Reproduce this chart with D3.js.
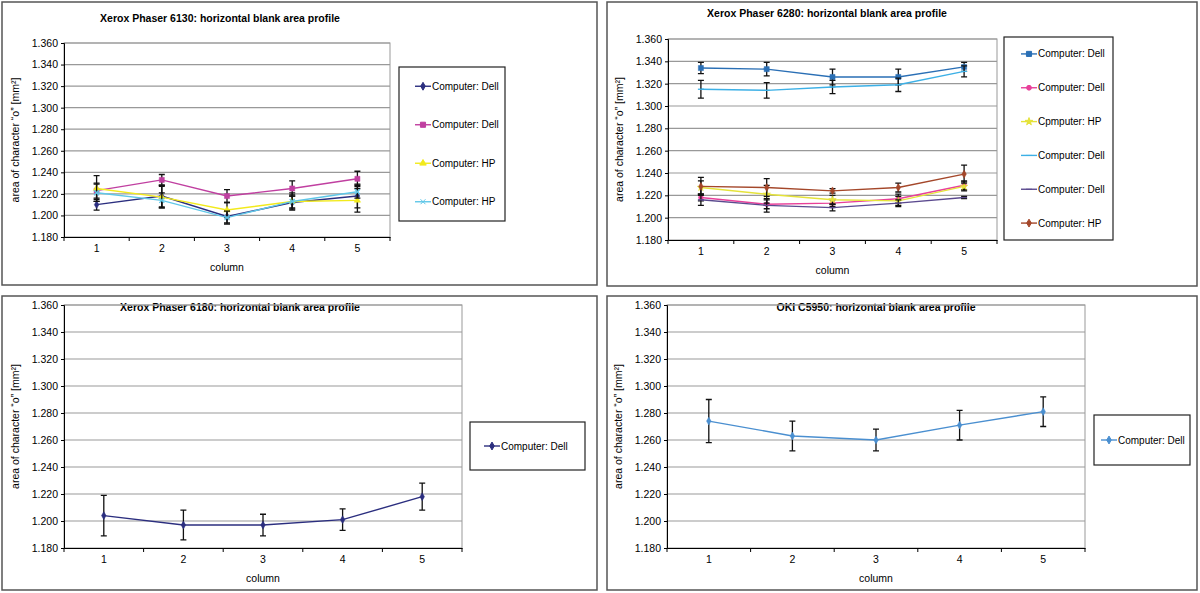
<!DOCTYPE html>
<html><head><meta charset="utf-8">
<script src="https://cdn.jsdelivr.net/npm/d3@7"></script>
<style>body{margin:0;background:#fff;font-family:"Liberation Sans",Arial,sans-serif}</style>
</head><body><svg id="c" width="1200" height="593"></svg>
<script>
const columns = [1, 2, 3, 4, 5];
const yTicks = [1.18, 1.2, 1.22, 1.24, 1.26, 1.28, 1.3, 1.32, 1.34, 1.36];

// Xerox Phaser 6130
const p6130Names = ["Computer: Dell", "Computer: Dell", "Computer: HP", "Computer: HP"];
const p6130Colors = ["#2b2e7f", "#c03fa0", "#f2ea1c", "#5fc7e8"];
const p6130Symbols = ["diamond", "square", "triangle", "cross"];
const p6130Values = [
  [1.210, 1.218, 1.199, 1.212, 1.218],
  [1.223, 1.233, 1.218, 1.225, 1.234],
  [1.225, 1.217, 1.205, 1.213, 1.214],
  [1.221, 1.214, 1.198, 1.213, 1.222]
];
const p6130Err = [
  [0.005, 0.010, 0.006, 0.006, 0.011],
  [0.007, 0.005, 0.006, 0.007, 0.007],
  [0.012, 0.010, 0.007, 0.006, 0.011],
  [0.008, 0.007, 0.006, 0.008, 0.006]
];

// Xerox Phaser 6280
const p6280Names = ["Computer: Dell", "Computer: Dell", "Cpmputer: HP", "Computer: Dell", "Computer: Dell", "Computer: HP"];
const p6280Colors = ["#2a6fb5", "#e8409a", "#e5e33a", "#3cb0e6", "#5b4a8f", "#a4472a"];
const p6280Symbols = ["square", "circle", "star", "dash", "dash", "diamond"];
const p6280Values = [
  [1.334, 1.333, 1.326, 1.326, 1.335],
  [1.218, 1.212, 1.213, 1.217, 1.229],
  [1.227, 1.221, 1.216, 1.215, 1.228],
  [1.315, 1.314, 1.317, 1.319, 1.331],
  [1.216, 1.211, 1.209, 1.213, 1.218],
  [1.228, 1.227, 1.224, 1.227, 1.239]
];
const p6280Err = [
  [0.005, 0.006, 0.007, 0.007, 0.004],
  [0.003, 0.004, 0.003, 0.004, 0.004],
  [0.006, 0.008, 0.004, 0.004, 0.004],
  [0.008, 0.007, 0.006, 0.006, 0.005],
  [0.005, 0.006, 0.003, 0.003, 0.001],
  [0.008, 0.008, 0.002, 0.004, 0.008]
];

// Xerox Phaser 6180
const p6180Values = [[1.204, 1.197, 1.197, 1.201, 1.218]];
const p6180Err = [[0.015, 0.011, 0.008, 0.008, 0.010]];

// OKI C5950
const okiValues = [[1.274, 1.263, 1.260, 1.271, 1.281]];
const okiErr = [[0.016, 0.011, 0.008, 0.011, 0.011]];

const svg = d3.select("#c");

function symbolPath(type) {
  const m = {diamond: d3.symbolDiamond, square: d3.symbolSquare, triangle: d3.symbolTriangle,
    circle: d3.symbolCircle, star: d3.symbolStar, cross: d3.symbolX};
  if (type === "dash") return "M-3,0H3";
  return d3.symbol(m[type], type === "square" ? 26 : 18)();
}

function panel(o) {
  const g = svg.append("g");
  g.append("rect").attr("x", o.box[0]).attr("y", o.box[1]).attr("width", o.box[2]).attr("height", o.box[3])
    .attr("fill", "#fff").attr("stroke", "#555").attr("stroke-width", 1.5);
  g.append("text").attr("x", o.titleX).attr("y", o.box[1] + o.titleDy).attr("text-anchor", "middle")
    .attr("font-size", 10.5).attr("font-weight", "bold").text(o.title);

  const [x0, y0, x1, y1] = o.plot;
  const band = d3.scaleBand().domain(columns).range([x0, x1]);
  const x = d => band(d) + band.bandwidth() / 2;
  const y = d3.scaleLinear().domain([1.18, 1.36]).range([y1, y0]);

  g.append("rect").attr("x", x0).attr("y", y0).attr("width", x1 - x0).attr("height", y1 - y0)
    .attr("fill", "none").attr("stroke", "#999");
  g.selectAll(".grid").data(yTicks.slice(1)).join("line")
    .attr("x1", x0).attr("x2", x1).attr("y1", y).attr("y2", y).attr("stroke", "#999").attr("stroke-width", 1.2);

  const ya = g.append("g").attr("transform", `translate(${x0},0)`)
    .call(d3.axisLeft(y).tickValues(yTicks).tickFormat(d3.format(".3f")).tickSize(3));
  ya.select(".domain").attr("stroke", "#000");
  ya.selectAll("text").attr("font-size", 10.5).attr("font-family", "Liberation Sans");
  const xa = g.append("g").attr("transform", `translate(0,${y1})`)
    .call(d3.axisBottom(band).tickSize(0).tickPadding(8));
  xa.select(".domain").attr("stroke", "#000");
  xa.selectAll("text").attr("font-size", 10.5).attr("font-family", "Liberation Sans");
  g.selectAll(".xt").data(d3.range(6)).join("line")
    .attr("x1", i => x0 + i * band.bandwidth()).attr("x2", i => x0 + i * band.bandwidth())
    .attr("y1", y1).attr("y2", y1 + 4).attr("stroke", "#000");

  g.append("text").attr("x", (x0 + x1) / 2).attr("y", y1 + 34).attr("text-anchor", "middle")
    .attr("font-size", 10.5).text("column");
  g.append("text").attr("transform", `translate(${x0 - 45},${(y0 + y1) / 2}) rotate(-90)`)
    .attr("text-anchor", "middle").attr("font-size", 10.5)
    .text("area of character \u201co\u201d [mm\u00b2]");

  const line = d3.line().x((d, i) => x(columns[i])).y(d => y(d));
  o.values.forEach((vals, s) => {
    g.append("path").attr("d", line(vals)).attr("fill", "none").attr("stroke", o.colors[s]).attr("stroke-width", 1.4);
    vals.forEach((v, i) => {
      const e = o.err[s][i], cx = x(columns[i]);
      g.append("path").attr("d", `M${cx},${y(v - e)}V${y(v + e)}M${cx - 3},${y(v - e)}H${cx + 3}M${cx - 3},${y(v + e)}H${cx + 3}`)
        .attr("stroke", "#111").attr("stroke-width", 1.3).attr("fill", "none");
    });
    vals.forEach((v, i) => {
      const t = o.symbols[s];
      g.append("path").attr("d", symbolPath(t)).attr("transform", `translate(${x(columns[i])},${y(v)})`)
        .attr("fill", t === "cross" || t === "dash" ? "none" : o.colors[s])
        .attr("stroke", o.colors[s]).attr("stroke-width", t === "cross" || t === "dash" ? 1.3 : 0.5);
    });
  });

  const [lx, ly, lw, lh] = o.legend;
  const pad = o.legendPad;
  g.append("rect").attr("x", lx).attr("y", ly).attr("width", lw).attr("height", lh)
    .attr("fill", "#fff").attr("stroke", "#222").attr("stroke-width", 1.2);
  const n = o.names.length, step = lh / n;
  o.names.forEach((nm, s) => {
    const cy = ly + step * (s + 0.5);
    g.append("line").attr("x1", lx + pad).attr("x2", lx + pad + 16).attr("y1", cy).attr("y2", cy)
      .attr("stroke", o.colors[s]).attr("stroke-width", 1.4);
    const t = o.symbols[s];
    g.append("path").attr("d", symbolPath(t)).attr("transform", `translate(${lx + pad + 8},${cy})`)
      .attr("fill", t === "cross" || t === "dash" ? "none" : o.colors[s]).attr("stroke", o.colors[s]);
    g.append("text").attr("x", lx + pad + 17).attr("y", cy + 3.5).attr("font-size", 10).text(nm);
  });
}

panel({box: [2, 2, 595, 283], title: "Xerox Phaser 6130: horizontal blank area profile", titleX: 220, titleDy: 20,
  plot: [64, 43, 390, 237], legend: [399, 67, 106, 154], legendPad: 16,
  names: p6130Names, colors: p6130Colors, symbols: p6130Symbols, values: p6130Values, err: p6130Err});
panel({box: [607, 2, 590, 284], title: "Xerox Phaser 6280: horizontal blank area profile", titleX: 827, titleDy: 15,
  plot: [668, 39, 997, 240], legend: [1004, 37, 109, 203], legendPad: 17,
  names: p6280Names, colors: p6280Colors, symbols: p6280Symbols, values: p6280Values, err: p6280Err});
panel({box: [2, 296, 595, 294], title: "Xerox Phaser 6180: horizontal blank area profile", titleX: 240, titleDy: 15,
  plot: [64, 305, 462, 548], legend: [470, 422, 115, 48], legendPad: 14,
  names: ["Computer: Dell"], colors: ["#2b2e7f"], symbols: ["diamond"], values: p6180Values, err: p6180Err});
panel({box: [607, 296, 590, 294], title: "OKI C5950: horizontal blank area profile", titleX: 876, titleDy: 15,
  plot: [667, 305, 1085, 548], legend: [1094, 415, 96, 50], legendPad: 7,
  names: ["Computer: Dell"], colors: ["#4a8fd0"], symbols: ["diamond"], values: okiValues, err: okiErr});
</script></body></html>
